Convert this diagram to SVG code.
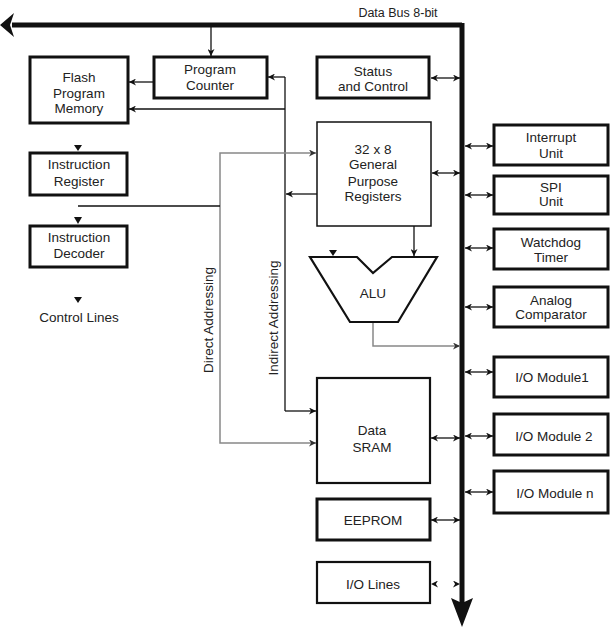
<svg xmlns="http://www.w3.org/2000/svg" width="615" height="634" viewBox="0 0 615 634">
<defs>
<marker id="ah" viewBox="0 0 10 10" refX="10" refY="5" markerWidth="7" markerHeight="7" markerUnits="userSpaceOnUse" orient="auto-start-reverse">
<path d="M0,0 L10,5 L0,10 L3,5 z" fill="#111"/>
</marker>
<marker id="ahg" viewBox="0 0 10 10" refX="10" refY="5" markerWidth="7" markerHeight="7" markerUnits="userSpaceOnUse" orient="auto-start-reverse">
<path d="M0,0 L10,5 L0,10 L3,5 z" fill="#333"/>
</marker>
</defs>
<style>
text{font-family:"Liberation Sans",Arial,sans-serif;font-size:13.5px;fill:#222;text-anchor:middle}
.box{fill:#fff;stroke:#111;stroke-width:3}
.thin{fill:#fff;stroke:#111;stroke-width:1.5}
.med{fill:#fff;stroke:#111;stroke-width:2.2}
.ln{fill:none;stroke:#111;stroke-width:1.3}
.gl{fill:none;stroke:#888;stroke-width:1.5}
.arr{marker-end:url(#ah)}
.dbl{marker-start:url(#ah);marker-end:url(#ah)}
.tri{fill:#111}
</style>
<rect width="615" height="634" fill="#fff"/>

<g id="connectors">
<!-- data bus -->
<path d="M462,25 H12" fill="none" stroke="#111" stroke-width="5"/>
<polygon points="0,25 14,13 10,25 14,37" fill="#111"/>
<path d="M462,23 V603" fill="none" stroke="#111" stroke-width="5"/>
<polygon points="451,598 462,603 473,598 462,627" fill="#111"/>
<!-- bus to PC -->
<path class="ln arr" d="M211,27 V56"/>
<!-- PC to Flash -->
<path class="ln arr" d="M154,82 H129"/>
<!-- indirect addressing -->
<path class="ln" d="M285,77 V411"/>
<path class="ln arr" d="M285,77 H268"/>
<path class="ln arr" d="M285,109 H129"/>
<path class="ln arr" d="M285,411 H316"/>
<path class="ln arr" d="M317,194 H286"/>
<!-- direct addressing -->
<path class="gl" d="M316,153 H220 V443 H316" marker-start="url(#ahg)" marker-end="url(#ahg)"/>
<!-- instruction register tap -->
<path class="ln" d="M78,206 H220"/>
<!-- lone arrowheads -->
<polygon class="tri" points="74,145 82,145 78,151"/>
<polygon class="tri" points="74,217 82,217 78,224"/>
<polygon class="tri" points="74,297 82,297 78,303"/>
<polygon class="tri" points="329,250 337,250 333,256"/>
<!-- GPR to ALU -->
<path class="ln arr" d="M414,226 V256"/>
<!-- ALU out -->
<path class="gl" d="M373,322 V346 H460" marker-end="url(#ahg)"/>
<!-- bus links left -->
<path class="ln dbl" d="M431,78 H460"/>
<path class="ln dbl" d="M432,173 H460"/>
<path class="ln dbl" d="M431,438 H460"/>
<path class="ln dbl" d="M431,520 H460"/>
<path d="M431,584 H460" fill="none" stroke="#111" stroke-width="1.3" stroke-opacity="0" marker-start="url(#ah)" marker-end="url(#ah)"/>
<!-- bus links right -->
<path class="ln dbl" d="M465,146 H493"/>
<path class="ln dbl" d="M465,195 H493"/>
<path class="ln dbl" d="M465,248 H493"/>
<path class="ln dbl" d="M465,307 H493"/>
<path class="ln dbl" d="M465,372 H493"/>
<path class="ln dbl" d="M465,436 H493"/>
<path class="ln dbl" d="M465,492 H493"/>
</g>

<text x="398" y="17" style="font-size:12.5px">Data Bus 8-bit</text>
<text transform="translate(213,320) rotate(-90)">Direct Addressing</text>
<text transform="translate(278,318) rotate(-90)">Indirect Addressing</text>

<g id="flash">
<rect class="box" x="30" y="57" width="98" height="66"/>
<text x="79" y="82">Flash</text>
<text x="79" y="98">Program</text>
<text x="79" y="113">Memory</text>
</g>
<g id="pc">
<rect class="box" x="154" y="57" width="113" height="41"/>
<text x="210" y="74">Program</text>
<text x="210" y="90">Counter</text>
</g>
<g id="status">
<rect class="box" x="317" y="57" width="112" height="41"/>
<text x="373" y="76">Status</text>
<text x="373" y="91">and Control</text>
</g>
<g id="ir">
<rect class="box" x="30" y="153" width="97" height="42"/>
<text x="79" y="169">Instruction</text>
<text x="79" y="186">Register</text>
</g>
<g id="id">
<rect class="box" x="30" y="226" width="97" height="41"/>
<text x="79" y="242">Instruction</text>
<text x="79" y="258">Decoder</text>
</g>
<g id="control">
<text x="79" y="322">Control Lines</text>
</g>
<g id="gpr">
<rect class="thin" x="317" y="122" width="114" height="104"/>
<text x="373" y="154">32 x 8</text>
<text x="373" y="169">General</text>
<text x="373" y="186">Purpose</text>
<text x="373" y="201">Registers</text>
</g>
<g id="alu">
<polygon points="310,257 357,257 373,273 392,257 437,257 398,322 350,322" fill="#fff" stroke="#111" stroke-width="2.2" stroke-linejoin="miter"/>
<text x="373" y="298">ALU</text>
</g>
<g id="sram">
<rect class="med" x="317" y="378" width="113" height="105"/>
<text x="372" y="435">Data</text>
<text x="372" y="452">SRAM</text>
</g>
<g id="eeprom">
<rect class="box" x="317" y="499" width="113" height="41"/>
<text x="373" y="525">EEPROM</text>
</g>
<g id="iolines">
<rect class="med" x="317" y="562" width="113" height="41"/>
<text x="373" y="589">I/O Lines</text>
</g>
<g id="interrupt">
<rect class="box" x="494" y="125" width="114" height="40"/>
<text x="551" y="142">Interrupt</text>
<text x="551" y="158">Unit</text>
</g>
<g id="spi">
<rect class="box" x="494" y="176" width="114" height="38"/>
<text x="551" y="192">SPI</text>
<text x="551" y="206">Unit</text>
</g>
<g id="watchdog">
<rect class="box" x="494" y="229" width="114" height="40"/>
<text x="551" y="247">Watchdog</text>
<text x="551" y="262">Timer</text>
</g>
<g id="analog">
<rect class="box" x="494" y="287" width="114" height="40"/>
<text x="551" y="305">Analog</text>
<text x="551" y="319">Comparator</text>
</g>
<g id="io1">
<rect class="box" x="494" y="357" width="114" height="40"/>
<text x="552" y="382">I/O Module1</text>
</g>
<g id="io2">
<rect class="box" x="494" y="414" width="114" height="41"/>
<text x="554" y="441">I/O Module 2</text>
</g>
<g id="ion">
<rect class="box" x="494" y="471" width="114" height="42"/>
<text x="555" y="498">I/O Module n</text>
</g>
</svg>
